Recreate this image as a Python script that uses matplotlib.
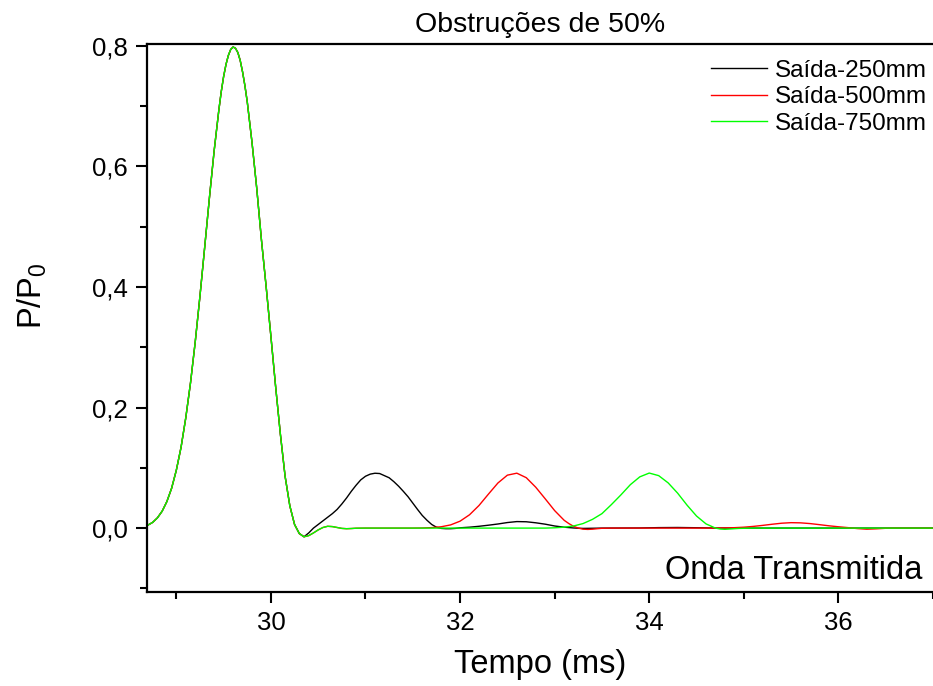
import matplotlib
matplotlib.use("Agg")
import matplotlib.pyplot as plt
from matplotlib.ticker import MultipleLocator, FuncFormatter

plt.rcParams['font.family'] = ['Liberation Sans', 'DejaVu Sans']
plt.rcParams['mathtext.default'] = 'regular'

# pulso incidente (comum as tres saidas), ms / P/P0
t_pulso = [28.69, 28.70, 28.75, 28.80, 28.85, 28.90, 28.95, 29.00, 29.05, 29.10,
           29.15, 29.20, 29.25, 29.30, 29.35, 29.40, 29.45, 29.475, 29.50, 29.525,
           29.55, 29.575, 29.60, 29.625, 29.65, 29.675, 29.70, 29.725, 29.75, 29.80,
           29.85, 29.90, 29.95, 30.00, 30.05, 30.10, 30.15, 30.20, 30.25, 30.30,
           30.35]
p_pulso = [0.004, 0.005, 0.0095, 0.017, 0.028, 0.044, 0.066, 0.096, 0.134, 0.183,
           0.241, 0.309, 0.385, 0.466, 0.548, 0.626, 0.694, 0.724, 0.749, 0.769,
           0.784, 0.794, 0.798, 0.796, 0.789, 0.776, 0.757, 0.734, 0.707, 0.640,
           0.564, 0.478, 0.400, 0.318, 0.2345, 0.156, 0.086, 0.037, 0.006, -0.009,
           -0.0144]

# Saida-250mm
t_250 = [30.40, 30.45, 30.50, 30.55, 30.60, 30.65, 30.70, 30.75, 30.80, 30.85,
         30.90, 30.95, 31.00, 31.05, 31.10, 31.15, 31.20, 31.25, 31.30, 31.35,
         31.40, 31.45, 31.50, 31.55, 31.60, 31.65, 31.70, 31.75, 31.80, 31.85,
         31.90, 31.95, 32.00, 32.10, 32.20, 32.30, 32.40, 32.50, 32.60, 32.70,
         32.80, 32.90, 33.00, 33.10, 33.20, 33.30, 33.40, 33.50, 33.90, 34.10,
         34.30, 34.50, 34.70, 34.90, 37.00]
p_250 = [-0.008, 0.000, 0.006, 0.012, 0.018, 0.024, 0.031, 0.040, 0.050, 0.061,
         0.071, 0.080, 0.086, 0.0895, 0.091, 0.0905, 0.087, 0.0835, 0.077, 0.0695,
         0.061, 0.052, 0.0415, 0.031, 0.021, 0.013, 0.006, 0.0015, -0.0005, -0.001,
         -0.001, -0.0005, 0.0005, 0.0015, 0.003, 0.0048, 0.0068, 0.0092, 0.0108, 0.0105,
         0.0088, 0.0065, 0.0035, 0.0015, 0.0002, -0.0005, -0.0003, 0.0, 0.0002, 0.0008,
         0.001, 0.0006, 0.0001, 0.0, 0.0]

# cauda comum de 500mm e 750mm logo apos o pulso
t_cauda = [30.40, 30.45, 30.50, 30.55, 30.60, 30.65, 30.70, 30.75, 30.80, 30.85,
           30.90, 31.00, 31.50]
p_cauda = [-0.0125, -0.008, -0.003, 0.001, 0.003, 0.0025, 0.001, -0.0005, -0.001, -0.0007,
           -0.0002, 0.0, 0.0]

# Saida-500mm
t_500 = [31.60, 31.70, 31.80, 31.90, 32.00, 32.10, 32.20, 32.30, 32.40, 32.50,
         32.60, 32.70, 32.80, 32.90, 33.00, 33.10, 33.15, 33.20, 33.25, 33.30,
         33.35, 33.40, 33.45, 33.50, 33.60, 34.60, 34.70, 34.80, 34.90, 35.00,
         35.10, 35.20, 35.30, 35.40, 35.50, 35.60, 35.70, 35.80, 35.90, 36.00,
         36.10, 36.20, 36.30, 36.40, 36.50, 36.60, 37.00]
p_500 = [0.0002, 0.0008, 0.0022, 0.0053, 0.0115, 0.0221, 0.0375, 0.0564, 0.0748, 0.0878,
         0.0911, 0.0836, 0.0678, 0.0486, 0.029, 0.013, 0.0075, 0.003, 0.0, -0.0018,
         -0.0022, -0.0018, -0.001, -0.0003, 0.0, 0.0, 0.0001, 0.0003, 0.0007, 0.0015,
         0.0028, 0.0045, 0.0064, 0.0081, 0.009, 0.0087, 0.0075, 0.0057, 0.0038, 0.0022,
         0.0008, -0.0008, -0.0018, -0.0012, -0.0003, 0.0, 0.0]

# Saida-750mm
t_750 = [32.90, 33.00, 33.10, 33.20, 33.30, 33.40, 33.50, 33.60, 33.70, 33.80,
         33.90, 34.00, 34.10, 34.20, 34.30, 34.40, 34.50, 34.60, 34.70, 34.75,
         34.80, 34.85, 34.95, 35.10, 37.00]
p_750 = [0.0, 0.0005, 0.0015, 0.0035, 0.0075, 0.0145, 0.024, 0.039, 0.055, 0.072,
         0.085, 0.0913, 0.087, 0.075, 0.058, 0.038, 0.020, 0.007, 0.0, -0.0015,
         -0.002, -0.0015, -0.0005, 0.0, 0.0]

rotulos = ['Saída-250mm', 'Saída-500mm', 'Saída-750mm']
cores = ['black', 'red', '#00ff00']

x250 = t_pulso + t_250
y250 = p_pulso + p_250
x500 = t_pulso + t_cauda + t_500
y500 = p_pulso + p_cauda + p_500
x750 = t_pulso + t_cauda + t_750
y750 = p_pulso + p_cauda + p_750

fig = plt.figure(figsize=(9.33, 6.86), dpi=100)
ax = fig.add_axes([147/933, 1-592/686, 1-147/933, (592-44)/686])

ax.plot(x250, y250, color=cores[0], lw=1.0, label=rotulos[0], solid_joinstyle='round')
ax.plot(x500, y500, color=cores[1], lw=1.0, label=rotulos[1], solid_joinstyle='round')
ax.plot(x750, y750, color=cores[2], lw=1.0, label=rotulos[2], solid_joinstyle='round')

ax.set_xlim(28.69, 37.0)
ax.set_ylim(-0.106, 0.803)

ax.xaxis.set_major_locator(MultipleLocator(2))
ax.xaxis.set_minor_locator(MultipleLocator(1))
ax.yaxis.set_major_locator(MultipleLocator(0.2))
ax.yaxis.set_minor_locator(MultipleLocator(0.1))
ax.yaxis.set_major_formatter(FuncFormatter(lambda v, p: ('%.1f' % v).replace('.', ',')))

ax.tick_params(which='major', direction='out', length=8, width=1.5, labelsize=18.5, pad=6)
ax.tick_params(which='minor', direction='out', length=5, width=1.5)
for s in ['left', 'bottom', 'top']:
    ax.spines[s].set_linewidth(1.6)
ax.spines['right'].set_visible(False)

ax.set_title('Obstruções de 50%', fontsize=20.5, pad=9)
ax.set_xlabel('Tempo (ms)', fontsize=23.5, labelpad=10)
ax.set_ylabel('P/P$_0$', fontsize=23.5)
ax.yaxis.set_label_coords(-0.125, 0.54)

ax.text(0.986, 0.024, 'Onda Transmitida', transform=ax.transAxes,
        ha='right', va='baseline', fontsize=23.5)

ax.legend(loc='upper right', bbox_to_anchor=(1.013, 1.0), frameon=False,
          fontsize=17.5, handlelength=2.3, handletextpad=0.35, labelspacing=0.18,
          borderaxespad=0.25)

fig.savefig('out.png', dpi=100)
